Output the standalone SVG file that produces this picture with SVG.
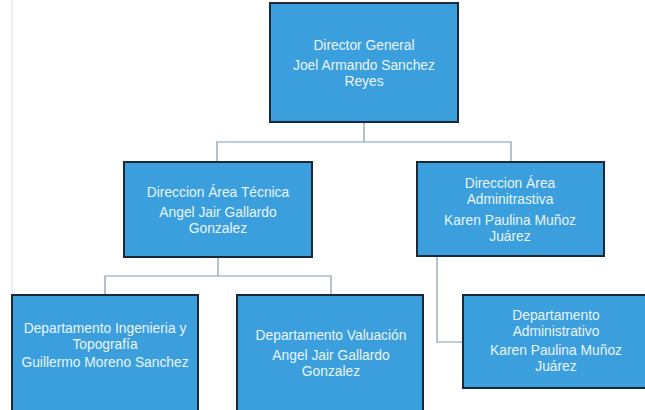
<svg xmlns="http://www.w3.org/2000/svg" width="645" height="410" viewBox="0 0 645 410">
<style>
.box{fill:#3a9fdc;stroke:#1b2838;stroke-width:2}
.t{font-family:"Liberation Sans",Arial,sans-serif;font-size:13.8px;fill:#eaf5fc;text-anchor:middle}
.c{fill:none;stroke:#7f9bb0;stroke-width:1.2}
</style>
<rect width="645" height="410" fill="#ffffff"/>
<line x1="12" y1="0" x2="12" y2="294" stroke="#dde3e9" stroke-width="1"/>
<g id="connectors">
<path class="c" d="M364 122 V142 M217 162 V142 H511 V162"/>
<path class="c" d="M218 257 V276 M105 295 V276 H331 V295"/>
<path class="c" d="M437 256 V342 H463"/>
</g>
<g id="director-general">
<rect class="box" x="270" y="3" width="188" height="119"/>
<text class="t" x="364" y="50">Director General</text>
<text class="t" x="364" y="70">Joel Armando Sanchez</text>
<text class="t" x="364" y="86">Reyes</text>
</g>
<g id="direccion-tecnica">
<rect class="box" x="124" y="162" width="188" height="95"/>
<text class="t" x="218" y="197">Direccion Área Técnica</text>
<text class="t" x="218" y="217">Angel Jair Gallardo</text>
<text class="t" x="218" y="233">Gonzalez</text>
</g>
<g id="direccion-administrativa">
<rect class="box" x="417" y="162" width="187" height="94"/>
<text class="t" x="510" y="188">Direccion Área</text>
<text class="t" x="510" y="204">Adminitrastiva</text>
<text class="t" x="510" y="225">Karen Paulina Muñoz</text>
<text class="t" x="510" y="241">Juárez</text>
</g>
<g id="depto-ingenieria">
<rect class="box" x="12" y="295" width="186" height="120"/>
<text class="t" x="105" y="333">Departamento Ingenieria y</text>
<text class="t" x="105" y="349">Topografía</text>
<text class="t" x="105" y="367">Guillermo Moreno Sanchez</text>
</g>
<g id="depto-valuacion">
<rect class="box" x="237" y="295" width="186" height="120"/>
<text class="t" x="331" y="340">Departamento Valuación</text>
<text class="t" x="331" y="360">Angel Jair Gallardo</text>
<text class="t" x="331" y="376">Gonzalez</text>
</g>
<g id="depto-administrativo">
<rect class="box" x="463" y="295" width="200" height="93"/>
<text class="t" x="556" y="320">Departamento</text>
<text class="t" x="556" y="336">Administrativo</text>
<text class="t" x="556" y="355">Karen Paulina Muñoz</text>
<text class="t" x="556" y="371">Juárez</text>
</g>
</svg>
